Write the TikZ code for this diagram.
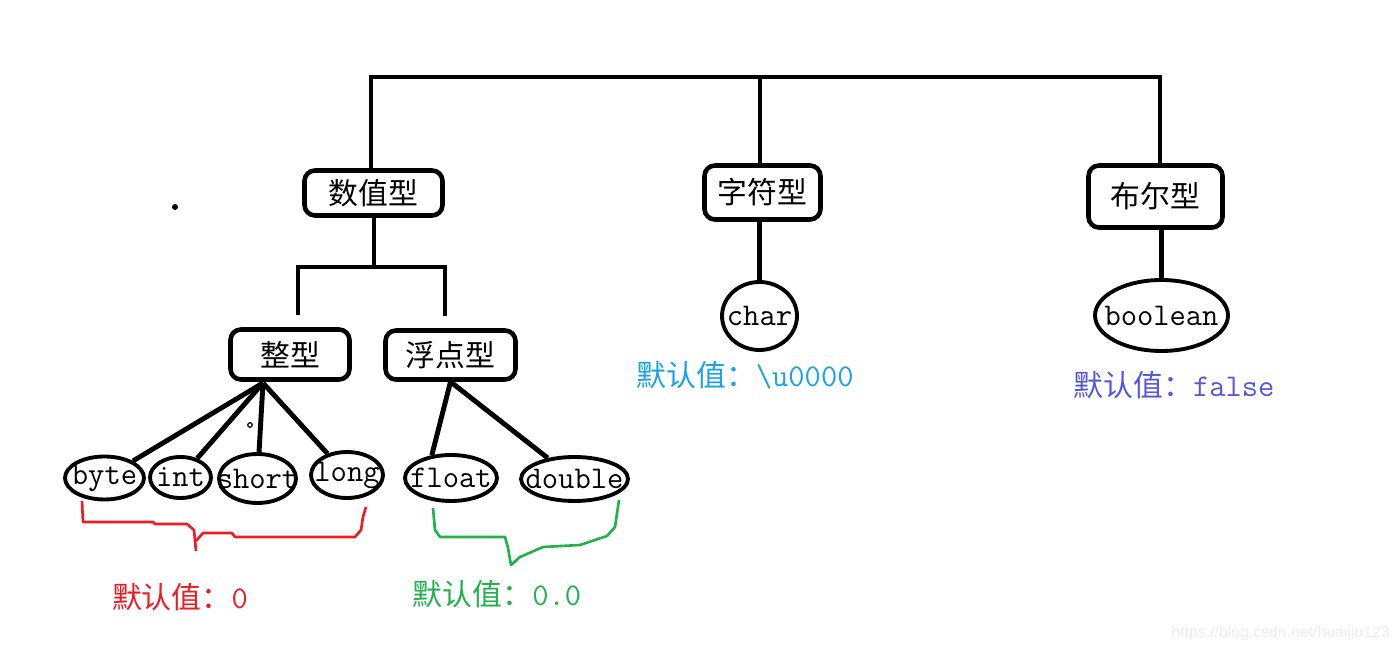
\documentclass[tikz,border=0pt]{standalone}
\usepackage{fontspec}
\newfontfamily\cjk{Noto Sans CJK SC}
\newfontfamily\wmfont{Liberation Sans}
\usetikzlibrary{shapes.geometric}
\definecolor{pred}{HTML}{ED1C24}
\definecolor{pgreen}{HTML}{22B14C}
\definecolor{pblue}{HTML}{1AA3E8}
\definecolor{pindigo}{HTML}{5558DD}
\newcommand\nowd[1]{\makebox[0pt]{#1}}
\begin{document}
\begin{tikzpicture}[x=0.02cm,y=-0.02cm,
  tbox/.style={draw, line width=2.6pt, rounded corners=6pt, inner sep=0pt, font=\cjk\fontsize{17}{20}\selectfont},
  ell/.style={draw, ellipse, line width=2.2pt, inner sep=0pt, font=\ttfamily\fontsize{18}{20}\selectfont},
  conn/.style={line width=2.8pt},
  bracket/.style={line width=1.5pt, line join=round},
  lbl/.style={inner sep=0pt, font=\fontsize{17}{20}\selectfont}]
\useasboundingbox (0,0) rectangle (1400,651);
\fill[white] (0,0) rectangle (1400,651);

% top level boxes
\node[tbox, minimum width=2.76cm, minimum height=0.9cm] (num) at (373.5,193) {数值型};
\node[tbox, minimum width=2.32cm, minimum height=1.08cm] (chr) at (762.5,192.5) {字符型};
\node[tbox, minimum width=2.68cm, minimum height=1.24cm] (bool) at (1155.5,196.5) {布尔型};

% second level boxes
\node[tbox, minimum width=2.38cm, minimum height=1.0cm] (ibox) at (290,354.5) {整型};
\node[tbox, minimum width=2.6cm, minimum height=0.98cm] (fbox) at (450.5,355) {浮点型};

% ellipses
\node[ell, minimum width=1.58cm, minimum height=0.86cm] (byte) at (104.5,478) {\nowd{byte}};
\node[ell, minimum width=1.22cm, minimum height=0.82cm] (int) at (180.5,477.5) {\nowd{int}};
\node[ell, minimum width=1.54cm, minimum height=0.98cm] (short) at (257.5,478.5) {\nowd{short}};
\node[ell, minimum width=1.44cm, minimum height=0.92cm] (long) at (347,475) {\nowd{long}};
\node[ell, minimum width=1.84cm, minimum height=0.92cm] (float) at (451,478) {\nowd{float}};
\node[ell, minimum width=2.14cm, minimum height=0.88cm] (double) at (574.5,479) {\nowd{double}};
\node[ell, minimum width=1.5cm, minimum height=1.36cm] (char) at (759.5,316) {\nowd{char}};
\node[ell, minimum width=2.66cm, minimum height=1.42cm] (boolean) at (1161.5,315.5) {\nowd{boolean}};

% coordinates
\coordinate (b1) at (371,77);
\coordinate (b2) at (760,77);
\coordinate (b3) at (1160,77);
\coordinate (s0) at (374,267);
\coordinate (s1) at (298,267);
\coordinate (s2) at (445,267);
\coordinate (e1) at (298,315);
\coordinate (e2) at (445,316);
\coordinate (ib) at (263,383);

% connectors
\draw[conn] (b1 |- num.north) -- (b1) -- (b3) -- (b3 |- bool.north);
\draw[conn] (b2) -- (b2 |- chr.north);
\draw[conn] (s0 |- num.south) -- (s0);
\draw[conn] (e1) -- (s1) -- (s2) -- (e2);
\draw[conn] (ib) -- (byte);
\draw[conn] (ib) -- (int);
\draw[conn] (ib) -- (short);
\draw[conn] (ib) -- (long);
\draw[conn] (fbox.south) -- (float.130);
\draw[conn] (fbox.south) -- (double);
\draw[conn] (char.north |- chr.south) -- (char.north);
\draw[conn] (boolean.north |- bool.south) -- (boolean.north);

% brackets
\draw[bracket, pred] (82,501) -- (83,522) -- (153,522) -- (155,524) -- (187,524) -- (194,530) -- (196,551);
\draw[bracket, pred] (196,541) -- (203,533) -- (232,533) -- (235,537) -- (355,537) -- (361,530) -- (363,517) -- (366,507);
\draw[bracket, pgreen] (433,508) -- (435,530) -- (440,537) -- (505,537) -- (508,548) -- (511,565) -- (520,557) -- (543,547) -- (580,545) -- (607,536) -- (615,527) -- (619,500);

% labels
\node[lbl, text=pred] (l0) at (180,597) {{\cjk 默认值：}{\ttfamily\fontsize{18}{20}\selectfont 0}};
\node[lbl, text=pgreen] (l1) at (497,594) {{\cjk 默认值：}{\ttfamily\fontsize{18}{20}\selectfont 0.0}};
\node[lbl, text=pblue] (l2) at (745,375) {{\cjk 默认值：}{\ttfamily\fontsize{18}{20}\selectfont\textbackslash u0000}};
\node[lbl, text=pindigo] (l3) at (1174,385) {{\cjk 默认值：}{\ttfamily\fontsize{18}{20}\selectfont false}};

% stray marks
\fill (175,207) circle[radius=0.06cm];
\draw[line width=0.7pt] (250,425) circle[radius=0.045cm];

% watermark
\node[anchor=east, inner sep=0pt, text=black!7, font=\wmfont\fontsize{9}{11}\selectfont] (wm) at (1390,633) {https://blog.csdn.net/huaijiu123};
\end{tikzpicture}
\end{document}
